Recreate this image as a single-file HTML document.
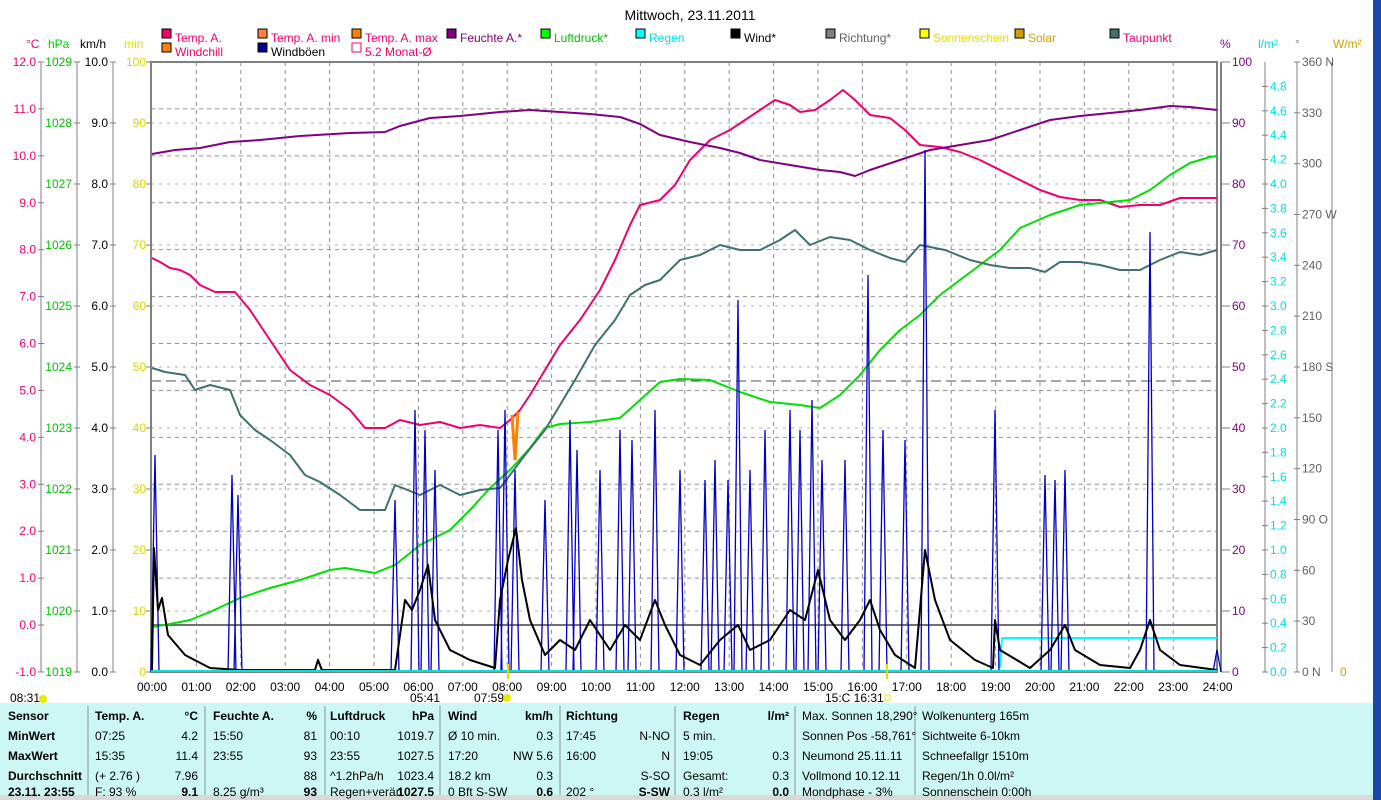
<!DOCTYPE html>
<html><head><meta charset="utf-8"><style>
body{margin:0;width:1381px;height:800px;background:#fff;overflow:hidden;font-family:"Liberation Sans",sans-serif}
svg{position:absolute;left:0;top:0}
text{font-family:"Liberation Sans",sans-serif;font-size:12px}
</style></head><body>
<svg id="s" width="1381" height="800" viewBox="0 0 1381 800" xmlns="http://www.w3.org/2000/svg">
<rect x="0" y="703" width="1373" height="97" fill="#ccf7f4"/>
<rect x="0" y="795" width="1373" height="5" fill="#d8d8d8"/>
<rect x="1373" y="0" width="8" height="800" fill="#1848a8"/>
<text x="690" y="20" text-anchor="middle" font-size="14" style="font-size:14px">Mittwoch, 23.11.2011</text>
<g id="g"></g>
</svg>
<script>
const g=document.getElementById('g');let h='';
const L=151,R=1217,T=62,B=672;
function t(x,y,s,c,a,w){h+=`<text x="${x}" y="${y}" fill="${c||'#000'}" ${a?'text-anchor="'+a+'"':''} ${w?'font-weight="bold"':''}>${s}</text>`}
function ln(x1,y1,x2,y2,c,w,d){h+=`<line x1="${x1}" y1="${y1}" x2="${x2}" y2="${y2}" stroke="${c}" stroke-width="${w||1}" ${d?'stroke-dasharray="'+d+'"':''}/>`}
function pl(p,c,w){h+=`<polyline fill="none" stroke="${c}" stroke-width="${w||2}" stroke-linejoin="round" points="${p}"/>`}
// legend
const leg=[[162,38,'#f0006c','Temp. A.','#f0006c'],[258,38,'#ff8040','Temp. A. min','#f0006c'],[352,38,'#ff8000','Temp. A. max','#f0006c'],[447,38,'#800080','Feuchte A.*','#800080'],[541,38,'#00ff00','Luftdruck*','#00c000'],[636,38,'#00ffff','Regen','#00e0e0'],[731,38,'#000','Wind*','#000'],[826,38,'#808080','Richtung*','#606060'],[920,38,'#ffff00','Sonnenschein','#e0e000'],[1015,38,'#d0a000','Solar','#d0a000'],[1110,38,'#407070','Taupunkt','#f0006c'],[162,52,'#ff8000','Windchill','#f0006c'],[258,52,'#000090','Windböen','#000']];
leg.forEach(l=>{h+=`<rect x="${l[0]}" y="${l[1]-9}" width="9" height="9" fill="${l[2]}" stroke="#000"/>`;t(l[0]+13,l[1]+4,l[3],l[4])});
h+=`<rect x="352" y="43" width="9" height="9" fill="none" stroke="#f0006c"/>`;t(365,56,'5.2 Monat-Ø','#f0006c');
// grid
for(let k=0;k<=24;k++){let x=L+1+k*44.4;if(k>0&&k<24)ln(x,T,x,B,'#909090',1,'4 4');t(x,691,(k<10?'0':'')+k+':00','#000','middle')}
for(let k=1;k<13;k++){let y=T+k*46.92;ln(L,y,R,y,'#909090',1,'4 4')}
for(let k=1;k<10;k++){let y=T+k*61;ln(L,y,R,y,'#b0b0b0',1,'3 5')}
ln(L,381,R,381,'#505050',1,'10 5');ln(L,625,R,625,'#707070',2);
h+=`<rect x="${L}" y="${T}" width="${R-L}" height="${B-T}" fill="none" stroke="#808080" stroke-width="2"/>`;
ln(R+4,T,R+4,B,'#808080',2);
// left axes
t(26,48,'°C','#f0006c');t(48,48,'hPa','#00d000');t(80,48,'km/h');t(124,48,'min','#e0e000');
for(let k=0;k<=13;k++){let y=T+k*46.92;t(36,y+4,(12-k).toFixed(1),'#f0006c','end');ln(38,y,44,y,'#808080')}
ln(41,T,41,B,'#808080');
for(let k=0;k<=10;k++){let y=T+k*61;t(72,y+4,1029-k,'#00c000','end');ln(74,y,80,y,'#808080');t(108,y+4,(10-k).toFixed(1),'#000','end');ln(110,y,116,y,'#808080');t(146,y+4,100-k*10,'#d8d800','end');ln(146,y,151,y,'#808080');
 let v=100-k*10;t(1232,y+4,v,'#800080');ln(R+4,y,1230,y,'#808080');}
ln(77,T,77,B,'#808080');ln(113,T,113,B,'#808080');
// right axes
t(1220,48,'%','#800080');t(1258,48,'l/m²','#00d8d8');t(1295,48,'°','#808080');t(1333,48,'W/m²','#d0a000');
ln(1265,T,1265,B,'#808080');ln(1297,T,1297,B,'#808080');ln(1332,T,1332,B,'#808080');
for(let k=0;k<=24;k++){let y=B-k*24.4;ln(1262,y,1268,y,'#808080');t(1270,y+4,(k*0.2).toFixed(1),'#00e0e0')}
const dir={0:'N',90:'O',180:'S',270:'W',360:'N'};
for(let v=0;v<=360;v+=30){let y=B-v*610/360;ln(1294,y,1300,y,'#808080');t(1302,y+4,v+(dir[v]!==undefined?' '+dir[v]:''),'#606060')}
t(1340,676,'0','#d0a000');
// series
pl('152,258 160,262 170,268 180,270 190,275 200,285 215,292 235,292 250,310 270,340 290,370 310,385 330,395 350,410 365,428 385,428 400,420 420,425 440,422 460,428 480,425 500,428 510,420 520,410 530,395 545,370 560,345 580,320 600,290 615,260 630,225 640,205 660,200 675,185 690,160 710,140 730,130 760,110 775,100 790,105 800,112 815,110 830,100 843,90 855,100 870,115 890,118 905,130 920,145 940,147 960,152 980,160 1000,170 1020,180 1040,190 1060,197 1080,200 1100,200 1120,207 1140,205 1160,205 1180,198 1217,198','#f0006c');
pl('152,154 175,150 200,148 230,142 260,140 300,136 350,133 385,132 400,126 430,118 460,116 500,112 530,110 560,112 590,114 620,117 640,124 660,135 690,142 720,148 740,153 760,160 790,165 820,170 840,172 855,176 870,170 900,160 930,150 960,145 990,140 1020,130 1050,120 1080,116 1110,113 1140,110 1170,106 1190,107 1217,110','#800080');
pl('152,627 170,624 190,620 210,612 240,598 270,588 300,580 330,570 345,568 375,573 395,565 420,545 450,530 470,510 490,488 510,470 530,448 545,428 560,424 590,422 620,418 640,400 660,382 680,379 710,380 740,392 770,402 800,405 820,408 840,395 860,375 880,350 900,330 920,315 940,295 960,280 980,265 1000,250 1020,228 1050,215 1080,205 1110,202 1130,200 1150,190 1170,175 1190,163 1210,157 1217,156','#00e000');
pl('152,368 165,372 185,375 195,390 210,385 230,390 240,415 255,430 270,440 290,455 305,475 320,482 340,495 360,510 385,510 395,485 420,495 440,485 460,495 480,490 500,488 510,475 525,455 545,430 560,405 575,380 595,345 615,320 630,295 645,285 660,280 680,260 700,255 720,245 740,250 760,250 780,240 795,230 810,245 830,237 850,240 870,250 890,258 905,262 920,245 945,250 970,260 990,265 1010,268 1030,268 1045,272 1060,262 1080,262 1100,265 1120,270 1140,270 1160,260 1180,252 1200,255 1217,250','#407070');
pl('1000,668 1002,638 1217,638','#00ffff');
h+=`<polyline fill="none" stroke="#ff8000" stroke-width="3" points="512,415 515,460 518,412"/>`;
// gusts
const gu=[[155,455],[232,475],[238,495],[318,660],[395,500],[415,410],[425,430],[435,470],[498,430],[505,410],[515,470],[545,500],[570,420],[577,450],[600,470],[620,430],[632,440],[655,410],[680,470],[705,480],[715,460],[728,480],[738,300],[750,470],[765,430],[790,410],[800,430],[812,400],[822,460],[845,460],[868,275],[883,430],[905,440],[925,150],[995,410],[1045,475],[1055,480],[1065,470],[1150,232],[1217,650]];
gu.forEach(p=>{h+=`<polyline fill="none" stroke="#0000c0" stroke-width="1.3" points="${p[0]-4},672 ${p[0]},${p[1]} ${p[0]+4},672"/>`});
// wind
const wp=[[152,670],[154,548],[158,610],[162,598],[168,635],[185,655],[210,668],[240,670],[315,670],[318,660],[322,670],[395,670],[405,600],[412,610],[420,590],[428,565],[435,620],[450,650],[470,660],[495,668],[500,600],[508,560],[516,528],[522,580],[530,620],[545,655],[560,640],[575,650],[590,620],[610,650],[625,625],[640,640],[655,600],[665,625],[680,655],[700,665],[720,640],[738,625],[750,650],[770,640],[790,610],[805,620],[818,570],[830,620],[845,640],[860,620],[870,600],[880,630],[895,655],[915,668],[925,550],[935,600],[950,640],[975,660],[993,668],[995,620],[1000,650],[1030,668],[1050,650],[1065,625],[1075,650],[1100,665],[1130,668],[1140,650],[1150,620],[1160,650],[1180,665],[1217,670]];
pl(wp.map(p=>p.join(',')).join(' '),'#000',2);
ln(L,671,R,671,'#00e0e0',2);
// sun markers
t(10,702,'08:31');h+=`<circle cx="43" cy="699" r="4" fill="#e8e800"/>`;
t(410,702,'05:41');t(474,702,'07:59');h+=`<circle cx="507" cy="698" r="4" fill="#e8e800"/>`;
t(825,702,'15:C 16:31');h+=`<rect x="885" y="695" width="5" height="5" fill="none" stroke="#e8e800"/>`;
ln(508,664,508,679,'#e0e000',2);ln(887,664,887,679,'#e0e000',2);
// table
[88,205,325,440,560,675,795,915].forEach(x=>ln(x,706,x,795,'#909090',1));
const ry=[721,741,761,781,799-2];
const col=(x,arr,a,w)=>arr.forEach((s,i)=>{if(s)t(x,ry[i]-1,s,'#000',a,w&&w[i])});
col(8,['Sensor','MinWert','MaxWert','Durchschnitt','23.11. 23:55'],null,[1,1,1,1,1]);
col(95,['Temp. A.','07:25','15:35','(+ 2.76 )','F: 93 %'],null,[1]);col(198,['°C','4.2','11.4','7.96','9.1'],'end',[1,0,0,0,1]);
col(213,['Feuchte A.','15:50','23:55','','8.25 g/m³'],null,[1]);col(317,['%','81','93','88','93'],'end',[1,0,0,0,1]);
col(330,['Luftdruck','00:10','23:55','^1.2hPa/h','Regen+verän'],null,[1]);col(434,['hPa','1019.7','1027.5','1023.4','1027.5'],'end',[1,0,0,0,1]);
col(448,['Wind','Ø 10 min.','17:20','18.2 km','0 Bft S-SW'],null,[1]);col(553,['km/h','0.3','NW 5.6','0.3','0.6'],'end',[1,0,0,0,1]);
col(566,['Richtung','17:45','16:00','','202 °'],null,[1]);col(670,['','N-NO','N','S-SO','S-SW'],'end',[0,0,0,0,1]);
col(683,['Regen','5 min.','19:05','Gesamt:','0.3 l/m²'],null,[1]);col(789,['l/m²','','0.3','0.3','0.0'],'end',[1,0,0,0,1]);
col(802,['Max. Sonnen 18,290°','Sonnen Pos  -58,761°','Neumond     25.11.11','Vollmond     10.12.11','Mondphase          - 3%']);
col(922,['Wolkenunterg   165m','Sichtweite      6-10km','Schneefallgr   1510m','Regen/1h       0.0l/m²','Sonnenschein   0:00h']);
g.innerHTML=h;
</script>
</body></html>
